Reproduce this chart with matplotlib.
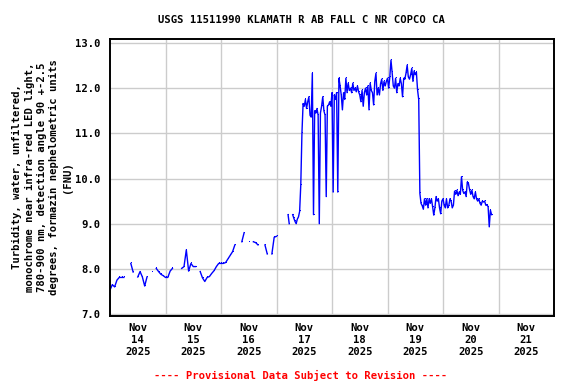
import numpy as np
import pandas as pd
import matplotlib
matplotlib.use("Agg")
import matplotlib.pyplot as plt
import matplotlib.dates as mdates

nan = np.nan

title = "USGS 11511990 KLAMATH R AB FALL C NR COPCO CA"
ylabel = ("Turbidity, water, unfiltered,\nmonochrome near infra-red LED light,\n"
          "780-900 nm, detection angle 90 +-2.5\ndegrees, formazin nephelometric units\n(FNU)")
footer = "---- Provisional Data Subject to Revision ----"

# hourly readings from 2025-11-14 00:00 (hours 0..75)
hourly_start = "2025-11-14 00:00"
hourly_values = [
    7.53, 7.65, 7.60, 7.75, 7.81, 7.81, 7.81, nan, nan, 8.12,
    7.93, nan, 7.82, 7.94, 7.82, 7.62, 7.82, nan, 7.94, nan,
    8.01, 7.94, 7.88, 7.85, 7.81, 7.81, 7.95, 8.01, nan, nan,
    nan, 8.01, 8.05, 8.42, 7.95, 8.12, 8.05, 8.05, nan, 7.94,
    7.80, 7.72, 7.81, 7.83, 7.90, 7.96, 8.05, 8.12, 8.12, 8.12,
    8.14, 8.22, 8.30, 8.38, 8.53, nan, nan, 8.60, 8.80, nan,
    8.60, nan, 8.60, 8.58, 8.53, nan, nan, 8.53, 8.33, nan,
    8.33, 8.70, 8.72, nan, nan, nan,
]

# half-hourly readings from 2025-11-17 04:00
halfhour_start = "2025-11-17 04:00"
halfhour_values = [
    nan, nan, 9.20, 9.00, nan, nan, 9.20, 9.12, 9.05, 9.00,
    9.10, 9.15, 9.27, 9.86, 11.00, 11.66, 11.60, 11.75, 11.55, 11.70,
    11.81, 11.40, 11.36, 12.33, 9.20, 11.50, 11.45, 11.55, 11.40, 9.00,
    11.45, 11.60, 11.81, 11.50, 11.40, 9.60, 11.60, 11.63, 11.70, 11.60,
    11.90, 9.70, 11.85, 11.75, 11.90, 9.70, 12.22, 12.05, 11.85, 11.52,
    11.90, 11.75, 12.22, 11.90, 12.11, 11.95, 12.00, 11.90, 12.11, 11.95,
    12.00, 11.92, 12.05, 11.92, 11.85, 11.70, 11.95, 11.60, 11.90, 12.00,
    11.85, 12.05, 11.52, 12.11, 11.95, 11.90, 11.63, 12.15, 12.33, 11.85,
    12.00, 11.85, 12.10, 12.20, 11.95, 12.15, 12.05, 12.15, 12.22, 12.00,
    12.25, 12.62, 12.35, 12.05, 12.00, 12.22, 11.90, 12.10, 12.05, 12.22,
    12.10, 11.81, 12.22, 12.20, 12.33, 12.51, 12.25, 12.20, 12.30, 12.44,
    12.15, 12.38, 12.30, 12.35, 11.96, 11.75, 9.67, 9.45, 9.40, 9.32,
    9.55, 9.41, 9.55, 9.35, 9.55, 9.45, 9.55, 9.38, 9.19, 9.35,
    9.60, 9.50, 9.55, 9.35, 9.22, 9.50, 9.55, 9.41, 9.35, 9.55,
    9.35, 9.40, 9.55, 9.50, 9.35, 9.41, 9.72, 9.65, 9.74, 9.62,
    9.70, 9.65, 10.04, 9.74, 9.67, 9.70, 9.60, 9.92, 9.89, 9.75,
    9.65, 9.74, 9.60, 9.55, 9.70, 9.55, 9.50, 9.55, 9.45, 9.41,
    9.50, 9.48, 9.50, 9.41, 9.41, 9.38, 8.93, 9.30, 9.20,
]

y_ticks = [7.0, 8.0, 9.0, 10.0, 11.0, 12.0, 13.0]
day_labels = ["Nov\n14\n2025", "Nov\n15\n2025", "Nov\n16\n2025", "Nov\n17\n2025",
              "Nov\n18\n2025", "Nov\n19\n2025", "Nov\n20\n2025", "Nov\n21\n2025"]

t1 = pd.date_range(hourly_start, periods=len(hourly_values), freq="1h")
t2 = pd.date_range(halfhour_start, periods=len(halfhour_values), freq="30min")
times = t1.append(t2)
values = np.array(list(hourly_values) + list(halfhour_values), dtype=float)

font = "DejaVu Sans Mono"
fs = 7.6

fig = plt.figure(figsize=(5.76, 3.84), dpi=100)
ax = fig.add_axes([110 / 576, 1 - 316 / 384, 444 / 576, 277 / 384])

ax.plot(times, values, color="#0000ff", lw=1.0, marker=",", markersize=1)

x0 = pd.Timestamp("2025-11-14 00:00")
x1 = pd.Timestamp("2025-11-22 00:00")
ax.set_xlim(x0, x1)
ax.set_ylim(6.956, 13.089)

ax.set_yticks(y_ticks)
ax.set_yticklabels([f"{v:.1f}" for v in y_ticks], family=font, fontweight="bold", fontsize=fs)

noon = pd.date_range("2025-11-14 12:00", periods=len(day_labels), freq="1D")
ax.set_xticks(noon)
ax.set_xticklabels(day_labels, family=font, fontweight="bold", fontsize=fs, linespacing=1.25)
mid = pd.date_range("2025-11-15 00:00", periods=7, freq="1D")
ax.set_xticks(mid, minor=True)

ax.tick_params(axis="both", which="both", length=0)
ax.tick_params(axis="y", pad=7)
ax.tick_params(axis="x", pad=5)
ax.grid(True, axis="y", which="major", color="#cccccc", lw=1.0)
ax.grid(True, axis="x", which="minor", color="#cccccc", lw=1.0)
ax.grid(False, axis="x", which="major")
ax.set_axisbelow(True)
for s in ax.spines.values():
    s.set_linewidth(1.4)
    s.set_color("black")

fig.text(301 / 576, 1 - 20 / 384, title, ha="center", va="center",
         family=font, fontweight="bold", fontsize=fs)
fig.text(42 / 576, 1 - 177 / 384, ylabel, ha="center", va="center", rotation=90,
         family=font, fontweight="bold", fontsize=fs, linespacing=1.3)
fig.text(301 / 576, 1 - 375 / 384, footer, ha="center", va="center",
         family=font, fontweight="bold", fontsize=fs, color="#ff0000")

fig.savefig("out.png", dpi=100)
